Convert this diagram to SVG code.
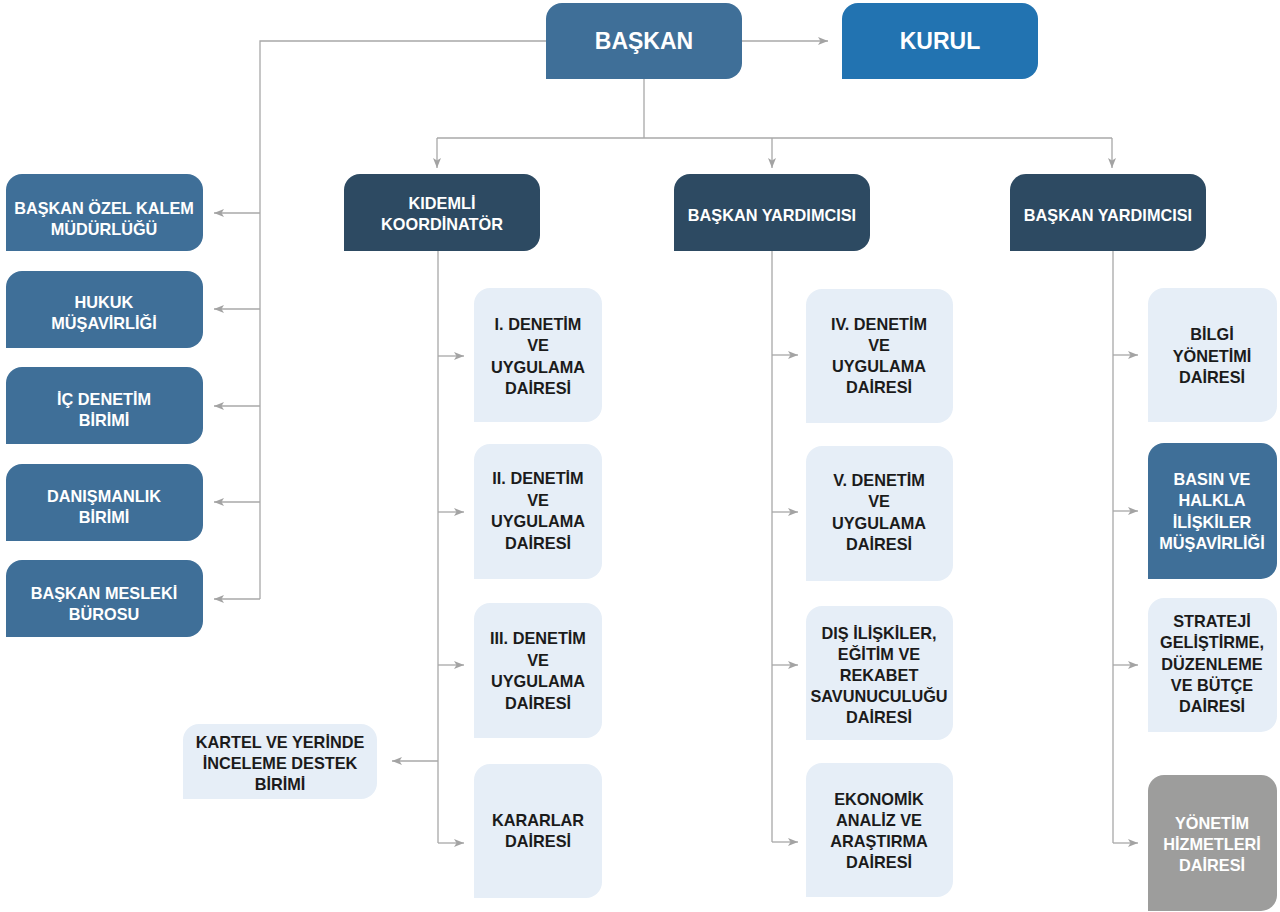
<svg xmlns="http://www.w3.org/2000/svg" width="1280" height="912" viewBox="0 0 1280 912">
<defs>
<marker id="arr" viewBox="0 0 10 8" refX="10" refY="4" markerWidth="10" markerHeight="8" markerUnits="userSpaceOnUse" orient="auto">
<path d="M0,0 L10,4 L0,8 L2.5,4 Z" fill="#a3a3a3"/>
</marker>
<style>
.ln{fill:none;stroke:#a8a8a8;stroke-width:1.3}
.top{fill:#3f6f98}
.kurul{fill:#2273b1}
.dark{fill:#2d4a62}
.mid{fill:#3f6f98}
.light{fill:#e6eef7}
.gray{fill:#9d9d9c}
text{font-family:"Liberation Sans",Arial,sans-serif;font-weight:bold;font-size:16.3px;text-anchor:middle}
.w{fill:#ffffff}
.k{fill:#1b1b1b}
.big{font-size:23px}
</style>
</defs>
<rect width="1280" height="912" fill="#ffffff"/>

<g id="connectors">
<path class="ln" d="M546,41 H260 V599"/>
<path class="ln" d="M260,213 H214" marker-end="url(#arr)"/>
<path class="ln" d="M260,309 H214" marker-end="url(#arr)"/>
<path class="ln" d="M260,406 H214" marker-end="url(#arr)"/>
<path class="ln" d="M260,502 H214" marker-end="url(#arr)"/>
<path class="ln" d="M260,599 H214" marker-end="url(#arr)"/>
<path class="ln" d="M742,41 H828" marker-end="url(#arr)"/>
<path class="ln" d="M644,79 V138"/>
<path class="ln" d="M437,138 H1112"/>
<path class="ln" d="M437,138 V168" marker-end="url(#arr)"/>
<path class="ln" d="M772,138 V168" marker-end="url(#arr)"/>
<path class="ln" d="M1112,138 V168" marker-end="url(#arr)"/>
<path class="ln" d="M438,251 V843"/>
<path class="ln" d="M438,356 H464" marker-end="url(#arr)"/>
<path class="ln" d="M438,512 H464" marker-end="url(#arr)"/>
<path class="ln" d="M438,665 H464" marker-end="url(#arr)"/>
<path class="ln" d="M438,843 H464" marker-end="url(#arr)"/>
<path class="ln" d="M438,761 H392" marker-end="url(#arr)"/>
<path class="ln" d="M772,251 V842"/>
<path class="ln" d="M772,355 H798" marker-end="url(#arr)"/>
<path class="ln" d="M772,512 H798" marker-end="url(#arr)"/>
<path class="ln" d="M772,665 H798" marker-end="url(#arr)"/>
<path class="ln" d="M772,842 H798" marker-end="url(#arr)"/>
<path class="ln" d="M1113,251 V843"/>
<path class="ln" d="M1113,355 H1138" marker-end="url(#arr)"/>
<path class="ln" d="M1113,511 H1138" marker-end="url(#arr)"/>
<path class="ln" d="M1113,665 H1138" marker-end="url(#arr)"/>
<path class="ln" d="M1113,843 H1138" marker-end="url(#arr)"/>
</g>

<g id="baskan">
<path class="top" d="M546,79 V19 A16,16 0 0 1 562,3 H726 A16,16 0 0 1 742,19 V63 A16,16 0 0 1 726,79 Z"/>
<text class="w big" x="644" y="49">BAŞKAN</text>
</g>
<g id="kurul">
<path class="kurul" d="M842,79 V19 A16,16 0 0 1 858,3 H1022 A16,16 0 0 1 1038,19 V63 A16,16 0 0 1 1022,79 Z"/>
<text class="w big" x="940" y="49">KURUL</text>
</g>

<g id="ozel-kalem">
<path class="mid" d="M6,251 V190 A16,16 0 0 1 22,174 H187 A16,16 0 0 1 203,190 V235 A16,16 0 0 1 187,251 Z"/>
<text class="w" x="104" y="214">BAŞKAN ÖZEL KALEM</text>
<text class="w" x="104" y="235">MÜDÜRLÜĞÜ</text>
</g>
<g id="hukuk">
<path class="mid" d="M6,348 V287 A16,16 0 0 1 22,271 H187 A16,16 0 0 1 203,287 V332 A16,16 0 0 1 187,348 Z"/>
<text class="w" x="104" y="308">HUKUK</text>
<text class="w" x="104" y="329">MÜŞAVİRLİĞİ</text>
</g>
<g id="ic-denetim">
<path class="mid" d="M6,444 V383 A16,16 0 0 1 22,367 H187 A16,16 0 0 1 203,383 V428 A16,16 0 0 1 187,444 Z"/>
<text class="w" x="104" y="405">İÇ DENETİM</text>
<text class="w" x="104" y="426">BİRİMİ</text>
</g>
<g id="danismanlik">
<path class="mid" d="M6,541 V480 A16,16 0 0 1 22,464 H187 A16,16 0 0 1 203,480 V525 A16,16 0 0 1 187,541 Z"/>
<text class="w" x="104" y="502">DANIŞMANLIK</text>
<text class="w" x="104" y="523">BİRİMİ</text>
</g>
<g id="mesleki-buro">
<path class="mid" d="M6,637 V576 A16,16 0 0 1 22,560 H187 A16,16 0 0 1 203,576 V621 A16,16 0 0 1 187,637 Z"/>
<text class="w" x="104" y="599">BAŞKAN MESLEKİ</text>
<text class="w" x="104" y="620">BÜROSU</text>
</g>

<g id="kidemli">
<path class="dark" d="M344,251 V190 A16,16 0 0 1 360,174 H524 A16,16 0 0 1 540,190 V235 A16,16 0 0 1 524,251 Z"/>
<text class="w" x="442" y="209">KIDEMLİ</text>
<text class="w" x="442" y="230">KOORDİNATÖR</text>
</g>
<g id="yardimci-1">
<path class="dark" d="M674,251 V190 A16,16 0 0 1 690,174 H854 A16,16 0 0 1 870,190 V235 A16,16 0 0 1 854,251 Z"/>
<text class="w" x="772" y="221">BAŞKAN YARDIMCISI</text>
</g>
<g id="yardimci-2">
<path class="dark" d="M1010,251 V190 A16,16 0 0 1 1026,174 H1190 A16,16 0 0 1 1206,190 V235 A16,16 0 0 1 1190,251 Z"/>
<text class="w" x="1108" y="221">BAŞKAN YARDIMCISI</text>
</g>

<g id="denetim-1">
<path class="light" d="M474,422 V304 A16,16 0 0 1 490,288 H586 A16,16 0 0 1 602,304 V406 A16,16 0 0 1 586,422 Z"/>
<text class="k" x="538" y="330">I. DENETİM</text>
<text class="k" x="538" y="351">VE</text>
<text class="k" x="538" y="373">UYGULAMA</text>
<text class="k" x="538" y="394">DAİRESİ</text>
</g>
<g id="denetim-2">
<path class="light" d="M474,579 V460 A16,16 0 0 1 490,444 H586 A16,16 0 0 1 602,460 V563 A16,16 0 0 1 586,579 Z"/>
<text class="k" x="538" y="484">II. DENETİM</text>
<text class="k" x="538" y="506">VE</text>
<text class="k" x="538" y="527">UYGULAMA</text>
<text class="k" x="538" y="549">DAİRESİ</text>
</g>
<g id="denetim-3">
<path class="light" d="M474,738 V619 A16,16 0 0 1 490,603 H586 A16,16 0 0 1 602,619 V722 A16,16 0 0 1 586,738 Z"/>
<text class="k" x="538" y="644">III. DENETİM</text>
<text class="k" x="538" y="666">VE</text>
<text class="k" x="538" y="687">UYGULAMA</text>
<text class="k" x="538" y="709">DAİRESİ</text>
</g>
<g id="kararlar">
<path class="light" d="M474,898 V780 A16,16 0 0 1 490,764 H586 A16,16 0 0 1 602,780 V882 A16,16 0 0 1 586,898 Z"/>
<text class="k" x="538" y="826">KARARLAR</text>
<text class="k" x="538" y="847">DAİRESİ</text>
</g>
<g id="kartel">
<path class="light" d="M183,799 V740 A16,16 0 0 1 199,724 H361 A16,16 0 0 1 377,740 V783 A16,16 0 0 1 361,799 Z"/>
<text class="k" x="280" y="748">KARTEL VE YERİNDE</text>
<text class="k" x="280" y="769">İNCELEME DESTEK</text>
<text class="k" x="280" y="790">BİRİMİ</text>
</g>

<g id="denetim-4">
<path class="light" d="M806,423 V305 A16,16 0 0 1 822,289 H937 A16,16 0 0 1 953,305 V407 A16,16 0 0 1 937,423 Z"/>
<text class="k" x="879" y="330">IV. DENETİM</text>
<text class="k" x="879" y="351">VE</text>
<text class="k" x="879" y="372">UYGULAMA</text>
<text class="k" x="879" y="393">DAİRESİ</text>
</g>
<g id="denetim-5">
<path class="light" d="M806,581 V462 A16,16 0 0 1 822,446 H937 A16,16 0 0 1 953,462 V565 A16,16 0 0 1 937,581 Z"/>
<text class="k" x="879" y="486">V. DENETİM</text>
<text class="k" x="879" y="507">VE</text>
<text class="k" x="879" y="529">UYGULAMA</text>
<text class="k" x="879" y="550">DAİRESİ</text>
</g>
<g id="dis-iliskiler">
<path class="light" d="M806,740 V622 A16,16 0 0 1 822,606 H937 A16,16 0 0 1 953,622 V724 A16,16 0 0 1 937,740 Z"/>
<text class="k" x="879" y="639">DIŞ İLİŞKİLER,</text>
<text class="k" x="879" y="660">EĞİTİM VE</text>
<text class="k" x="879" y="681">REKABET</text>
<text class="k" x="879" y="702">SAVUNUCULUĞU</text>
<text class="k" x="879" y="723">DAİRESİ</text>
</g>
<g id="ekonomik">
<path class="light" d="M806,897 V779 A16,16 0 0 1 822,763 H937 A16,16 0 0 1 953,779 V881 A16,16 0 0 1 937,897 Z"/>
<text class="k" x="879" y="805">EKONOMİK</text>
<text class="k" x="879" y="826">ANALİZ VE</text>
<text class="k" x="879" y="847">ARAŞTIRMA</text>
<text class="k" x="879" y="868">DAİRESİ</text>
</g>

<g id="bilgi">
<path class="light" d="M1148,422 V304 A16,16 0 0 1 1164,288 H1261 A16,16 0 0 1 1277,304 V406 A16,16 0 0 1 1261,422 Z"/>
<text class="k" x="1212" y="340">BİLGİ</text>
<text class="k" x="1212" y="362">YÖNETİMİ</text>
<text class="k" x="1212" y="383">DAİRESİ</text>
</g>
<g id="basin">
<path class="mid" d="M1148,579 V459 A16,16 0 0 1 1164,443 H1261 A16,16 0 0 1 1277,459 V563 A16,16 0 0 1 1261,579 Z"/>
<text class="w" x="1212" y="485">BASIN VE</text>
<text class="w" x="1212" y="506">HALKLA</text>
<text class="w" x="1212" y="528">İLİŞKİLER</text>
<text class="w" x="1212" y="549">MÜŞAVİRLİĞİ</text>
</g>
<g id="strateji">
<path class="light" d="M1148,732 V614 A16,16 0 0 1 1164,598 H1261 A16,16 0 0 1 1277,614 V716 A16,16 0 0 1 1261,732 Z"/>
<text class="k" x="1212" y="627">STRATEJİ</text>
<text class="k" x="1212" y="648">GELİŞTİRME,</text>
<text class="k" x="1212" y="670">DÜZENLEME</text>
<text class="k" x="1212" y="691">VE BÜTÇE</text>
<text class="k" x="1212" y="712">DAİRESİ</text>
</g>
<g id="yonetim">
<path class="gray" d="M1148,911 V791 A16,16 0 0 1 1164,775 H1261 A16,16 0 0 1 1277,791 V895 A16,16 0 0 1 1261,911 Z"/>
<text class="w" x="1212" y="829">YÖNETİM</text>
<text class="w" x="1212" y="850">HİZMETLERİ</text>
<text class="w" x="1212" y="871">DAİRESİ</text>
</g>
</svg>
